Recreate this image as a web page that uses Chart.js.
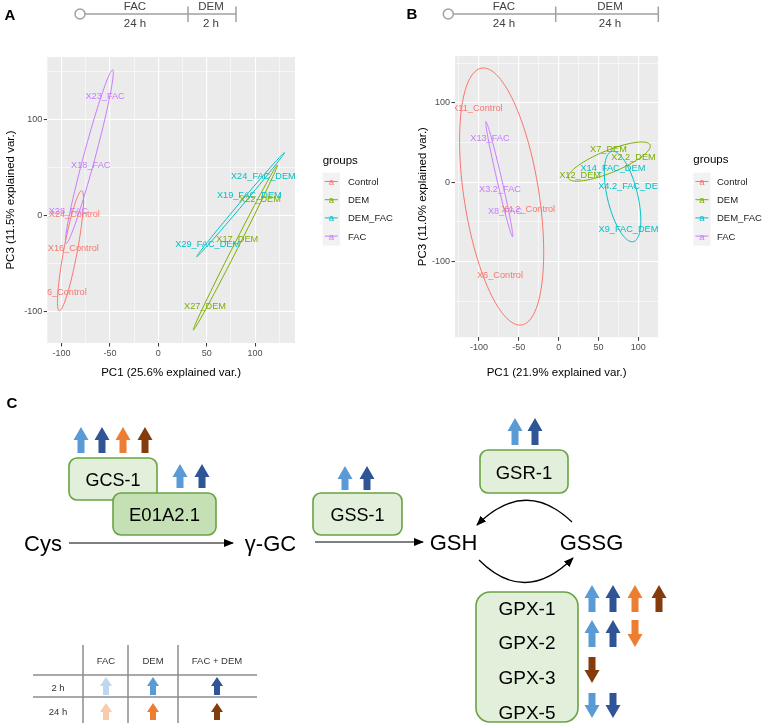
<!DOCTYPE html>
<html>
<head>
<meta charset="utf-8">
<script src="https://cdn.jsdelivr.net/npm/chart.js@4.4.1/dist/chart.umd.min.js"></script>
<style>
  body { margin: 0; background: #fff; width: 765px; height: 726px; overflow: hidden; position: relative;
         font-family: "Liberation Sans", Arial, sans-serif; }
  canvas { position: absolute; }
  #chartA { left: 0; top: 40px; }
  #chartB { left: 410px; top: 40px; }
  #overlay { position: absolute; left: 0; top: 0; }
</style>
</head>
<body>
<canvas id="chartA" width="300" height="340"></canvas>
<canvas id="chartB" width="250" height="340"></canvas>
<svg id="overlay" width="765" height="726" xmlns="http://www.w3.org/2000/svg"></svg>
<script>
// groups + ggplot default hues
const groups = ["Control", "DEM", "DEM_FAC", "FAC"];
const groupColors = ["#F8766D", "#7CAE00", "#00BFC4", "#C77CFF"];

// panel A (FAC 24 h -> DEM 2 h) sample scores
const namesA = ["X23_FAC", "X18_FAC", "X28_FAC", "X24_Control", "X16_Control", "X6_Control",
                "X24_FAC_DEM", "X19_FAC_DEM", "X22_DEM", "X29_FAC_DEM", "X17_DEM", "X27_DEM"];
const groupOfA = ["FAC", "FAC", "FAC", "Control", "Control", "Control",
                  "DEM_FAC", "DEM_FAC", "DEM", "DEM_FAC", "DEM", "DEM"];
const pc1A = [-55, -69.8, -93, -86.8, -87.8, -97.7, 108.5, 94, 105, 51, 81.6, 48.2];
const pc3A = [124, 52, 4.9, 1.8, -34.4, -80, 40.6, 20.8, 17.4, -29.5, -24.3, -94.8];
// ellipses per group (Control, DEM, DEM_FAC, FAC): centre, half axes, angle (deg)
const ellCxA = [-90.7, 79.6, 85, -71.2];
const ellCyA = [-36.5, -33.1, 11.5, 61.5];
const ellMajorA = [63.6, 96.2, 70.6, 93.5];
const ellMinorA = [7, 2.5, 1.8, 6];
const ellAngleA = [79.5, 63.2, 50.1, 75.1];
const xTicksA = [-100, -50, 0, 50, 100];
const yTicksA = [-100, 0, 100];

// panel B (FAC 24 h -> DEM 24 h)
const namesB = ["X11_Control", "X13_FAC", "X3.2_FAC", "X8_FAC", "X4.2_Control", "X6_Control",
                "X7_DEM", "X2.2_DEM", "X14_FAC_DEM", "X12_DEM", "X4.2_FAC_DEM", "X9_FAC_DEM"];
const groupOfB = ["Control", "FAC", "FAC", "FAC", "Control", "Control",
                  "DEM", "DEM", "DEM_FAC", "DEM", "DEM_FAC", "DEM_FAC"];
const pc1B = [-101.9, -86.2, -73.6, -67.3, -38, -73.6, 62.5, 93.9, 68, 26.9, 91.8, 87.6];
const pc3B = [93.3, 55.4, -9.7, -37, -34, -118, 40.7, 31, 17.6, 8, -5.5, -60.1];
const ellCxB = [-71.5, 63.5, 80.2, -74.5];
const ellCyB = [-18, 26, -18, 3.9];
const ellMajorB = [163.7, 55.4, 58.4, 74.4];
const ellMinorB = [47, 14, 19, 3];
const ellAngleB = [98.8, 22.3, 103.4, 103];
const xTicksB = [-100, -50, 0, 50, 100];
const yTicksB = [-100, 0, 100];

// draws grey panel, ellipses and sample names
function biplotDecor(ell) {
  return {
    id: "biplotDecor",
    beforeDraw(chart) {
      const a = chart.chartArea, ctx = chart.ctx;
      ctx.save();
      ctx.fillStyle = "#ebebeb";
      ctx.fillRect(a.left, a.top, a.right - a.left, a.bottom - a.top);
      ctx.restore();
    },
    afterDatasetsDraw(chart) {
      const a = chart.chartArea, ctx = chart.ctx;
      const x = chart.scales.x, y = chart.scales.y;
      ctx.save();
      ctx.beginPath();
      ctx.rect(a.left, a.top, a.right - a.left, a.bottom - a.top);
      ctx.clip();
      chart.data.datasets.forEach((ds, gi) => {
        const phi = ell.angle[gi] * Math.PI / 180;
        ctx.beginPath();
        for (let k = 0; k <= 120; k++) {
          const t = k / 120 * 2 * Math.PI;
          const dx = ell.major[gi] * Math.cos(t), dy = ell.minor[gi] * Math.sin(t);
          const px = x.getPixelForValue(ell.cx[gi] + dx * Math.cos(phi) - dy * Math.sin(phi));
          const py = y.getPixelForValue(ell.cy[gi] + dx * Math.sin(phi) + dy * Math.cos(phi));
          if (k) ctx.lineTo(px, py); else ctx.moveTo(px, py);
        }
        ctx.closePath();
        ctx.strokeStyle = ds.borderColor;
        ctx.lineWidth = 1;
        ctx.stroke();
      });
      ctx.font = '9.2px "Liberation Sans", Arial';
      ctx.textAlign = "center";
      ctx.textBaseline = "middle";
      chart.data.datasets.forEach((ds, gi) => {
        chart.getDatasetMeta(gi).data.forEach((pt, i) => {
          ctx.fillStyle = ds.borderColor;
          ctx.fillText(ds.data[i].name, pt.x, pt.y);
        });
      });
      ctx.restore();
    }
  };
}

function gridValues(min, max, step) {
  const v = [];
  for (let t = Math.ceil(min / step) * step; t <= max; t += step) v.push(t);
  return v;
}

function makeBiplot(id, o) {
  const datasets = groups.map((g, gi) => ({
    label: g,
    data: o.names.map((n, i) => ({ x: o.pc1[i], y: o.pc3[i], name: n, g: o.groupOf[i] }))
                 .filter(d => d.g === g),
    borderColor: groupColors[gi],
    backgroundColor: groupColors[gi],
    pointRadius: 0,
    showLine: false
  }));
  const axis = (majors, min, max, step, title, fit) => ({
    type: "linear", min: min, max: max,
    afterBuildTicks: s => { s.ticks = gridValues(min, max, step).map(v => ({ value: v })); },
    afterFit: fit,
    border: { display: false },
    grid: {
      color: "#ffffff",
      lineWidth: c => majors.includes(c.tick.value) ? 1.1 : 0.55,
      drawTicks: true, tickLength: 3.5, tickWidth: 1,
      tickColor: c => majors.includes(c.tick.value) ? "#333333" : "rgba(0,0,0,0)"
    },
    ticks: {
      autoSkip: false, maxRotation: 0, padding: 1.5,
      color: "#4d4d4d", font: { size: 9, family: '"Liberation Sans", Arial' },
      callback: v => majors.includes(v) ? String(v) : ""
    },
    title: { display: true, text: title, color: "#000", padding: 0,
             font: { size: 11.5, family: '"Liberation Sans", Arial' } }
  });
  return new Chart(document.getElementById(id), {
    type: "scatter",
    data: { datasets: datasets },
    options: {
      responsive: false, animation: false, events: [],
      layout: { padding: o.pad },
      plugins: { legend: { display: false }, tooltip: { enabled: false } },
      scales: {
        x: axis(o.xTicks, o.xr[0], o.xr[1], 25, o.xTitle, s => { s.height = o.xH; }),
        y: axis(o.yTicks, o.yr[0], o.yr[1], 50, o.yTitle, s => { s.width = o.yW; })
      }
    },
    plugins: [biplotDecor(o.ell)]
  });
}

makeBiplot("chartA", {
  names: namesA, groupOf: groupOfA, pc1: pc1A, pc3: pc3A,
  ell: { cx: ellCxA, cy: ellCyA, major: ellMajorA, minor: ellMinorA, angle: ellAngleA },
  xTicks: xTicksA, yTicks: yTicksA, xr: [-114.7, 141.2], yr: [-132.6, 165.3],
  xTitle: "PC1 (25.6% explained var.)", yTitle: "PC3 (11.5% explained var.)",
  pad: { left: 4, top: 17, right: 5, bottom: 0 }, yW: 43.3, xH: 37
});
makeBiplot("chartB", {
  names: namesB, groupOf: groupOfB, pc1: pc1B, pc3: pc3B,
  ell: { cx: ellCxB, cy: ellCyB, major: ellMajorB, minor: ellMinorB, angle: ellAngleB },
  xTicks: xTicksB, yTicks: yTicksB, xr: [-130, 125], yr: [-195.3, 159],
  xTitle: "PC1 (21.9% explained var.)", yTitle: "PC3 (11.0% explained var.)",
  pad: { left: 6, top: 16, right: 1.7, bottom: 0 }, yW: 39, xH: 42.7
});

// ---- overlay: panel letters, timelines, legends, pathway (panel C) ----
const LB = "#5b9bd5", DB = "#2f5597", OR = "#ed7d31", BR = "#843c0c";
const LLB = "#bdd7ee", LOR = "#f8cbad";
let svg = '<defs><marker id="ah" markerWidth="10" markerHeight="8" refX="9" refY="4" orient="auto" markerUnits="userSpaceOnUse">' +
          '<path d="M0,0 L10,4 L0,8 z" fill="#000"/></marker></defs>';

function txt(x, y, s, size, opt) {
  opt = opt || {};
  return '<text x="' + x + '" y="' + y + '" font-size="' + size + '" fill="' + (opt.fill || "#000") +
    '" text-anchor="' + (opt.anchor || "middle") + '" dominant-baseline="central"' +
    (opt.bold ? ' font-weight="bold"' : '') + ' font-family="Liberation Sans, Arial">' + s + '</text>';
}
function blockArrow(cx, top, bottom, dir, color, w, s, hh) {
  let p;
  if (dir === "up") {
    p = [[cx, top], [cx + w / 2, top + hh], [cx + s / 2, top + hh], [cx + s / 2, bottom],
         [cx - s / 2, bottom], [cx - s / 2, top + hh], [cx - w / 2, top + hh]];
  } else {
    p = [[cx, bottom], [cx + w / 2, bottom - hh], [cx + s / 2, bottom - hh], [cx + s / 2, top],
         [cx - s / 2, top], [cx - s / 2, bottom - hh], [cx - w / 2, bottom - hh]];
  }
  return '<polygon points="' + p.map(q => q.join(",")).join(" ") + '" fill="' + color + '"/>';
}
function box(x, y, w, h, fill, label, size) {
  return '<rect x="' + x + '" y="' + y + '" width="' + w + '" height="' + h + '" rx="8" fill="' + fill +
    '" stroke="#6aa343" stroke-width="1.6"/>' + txt(x + w / 2, y + h / 2 + 0.5, label, size);
}

// panel letters
svg += txt(10, 14, "A", 15, { bold: true }) + txt(412, 13, "B", 15, { bold: true }) + txt(12, 402, "C", 15, { bold: true });

// timelines
function timeline(cx0, xEnd, ticks, tops, bottoms, mids) {
  let s = '<line x1="' + (cx0 + 5) + '" y1="14" x2="' + xEnd + '" y2="14" stroke="#a0a0a0" stroke-width="1.5"/>';
  s += '<circle cx="' + cx0 + '" cy="14" r="5" fill="#fff" stroke="#a0a0a0" stroke-width="1.5"/>';
  ticks.forEach(t => { s += '<line x1="' + t + '" y1="6.5" x2="' + t + '" y2="22" stroke="#a0a0a0" stroke-width="1.5"/>'; });
  mids.forEach((m, i) => { s += txt(m, 6, tops[i], 11.5, { fill: "#404040" }) + txt(m, 22.5, bottoms[i], 11.5, { fill: "#404040" }); });
  return s;
}
svg += timeline(80, 236, [188, 236], ["FAC", "DEM"], ["24 h", "2 h"], [135, 211]);
svg += timeline(448.3, 658.3, [555.7, 658.3], ["FAC", "DEM"], ["24 h", "24 h"], [504, 610]);

// legends
function legend(keyLeft, titleY, labelX) {
  let s = txt(keyLeft, titleY, "groups", 11.5, { anchor: "start" });
  s += '<rect x="' + keyLeft + '" y="172.6" width="17.3" height="73" fill="#f2f2f2"/>';
  groups.forEach((g, i) => {
    const yc = 181.5 + i * 18.2, kx = keyLeft + 8.6;
    s += '<line x1="' + (kx - 6.5) + '" y1="' + yc + '" x2="' + (kx + 6.5) + '" y2="' + yc + '" stroke="' + groupColors[i] + '" stroke-width="1"/>';
    s += txt(kx, yc, "a", 9.5, { fill: groupColors[i] });
    s += txt(labelX, yc, g, 9.5, { anchor: "start", fill: "#1a1a1a" });
  });
  return s;
}
svg += legend(322.7, 160, 348) + legend(693.3, 159, 717);

// pathway
svg += box(69, 458, 88, 42, "#e2efda", "GCS-1", 18);
svg += box(113, 493, 103, 42, "#c5e0b4", "E01A2.1", 18.5);
svg += box(313, 493, 89, 42, "#e2efda", "GSS-1", 18);
svg += box(480, 450, 88, 43, "#e2efda", "GSR-1", 18.5);
svg += '<rect x="476" y="592" width="102" height="130" rx="14" fill="#e2efda" stroke="#6aa343" stroke-width="1.6"/>';
["GPX-1", "GPX-2", "GPX-3", "GPX-5"].forEach((g, i) => { svg += txt(527, [608, 642, 677, 712][i], g, 19); });

svg += txt(43, 543, "Cys", 22) + txt(270.5, 543, "γ-GC", 22) + txt(453.5, 542, "GSH", 22) + txt(591.5, 542, "GSSG", 22);
svg += '<line x1="69" y1="543" x2="233" y2="543" stroke="#000" stroke-width="1.1" marker-end="url(#ah)"/>';
svg += '<line x1="315" y1="542" x2="423" y2="542" stroke="#000" stroke-width="1.1" marker-end="url(#ah)"/>';
svg += '<path d="M572,522 Q525,477 477,525" fill="none" stroke="#000" stroke-width="1.3" marker-end="url(#ah)"/>';
svg += '<path d="M479,560 Q525,606 573,558" fill="none" stroke="#000" stroke-width="1.3" marker-end="url(#ah)"/>';

// expression arrows: [x, top, bottom, direction, colour]
const geneArrows = [
  [81, 427, 453, "up", LB], [102, 427, 453, "up", DB], [123, 427, 453, "up", OR], [145, 427, 453, "up", BR],
  [180, 464, 488, "up", LB], [202, 464, 488, "up", DB],
  [345, 466, 490, "up", LB], [367, 466, 490, "up", DB],
  [515, 418, 445, "up", LB], [535, 418, 445, "up", DB],
  [592, 585, 612, "up", LB], [613, 585, 612, "up", DB], [635, 585, 612, "up", OR], [659, 585, 612, "up", BR],
  [592, 620, 647, "up", LB], [613, 620, 647, "up", DB], [635, 620, 647, "down", OR],
  [592, 657, 683, "down", BR],
  [592, 693, 718, "down", LB], [613, 693, 718, "down", DB]
];
geneArrows.forEach(a => { svg += blockArrow(a[0], a[1], a[2], a[3], a[4], 15, 7, 13); });

// key table
[83, 128, 178].forEach(x => { svg += '<line x1="' + x + '" y1="645" x2="' + x + '" y2="723" stroke="#8c8c8c" stroke-width="1.5"/>'; });
[675, 697].forEach(y => { svg += '<line x1="33" y1="' + y + '" x2="257" y2="' + y + '" stroke="#8c8c8c" stroke-width="1.5"/>'; });
svg += txt(106, 660, "FAC", 9.5, { fill: "#333" }) + txt(153, 660, "DEM", 9.5, { fill: "#333" }) + txt(217, 660, "FAC + DEM", 9.5, { fill: "#333" });
svg += txt(58, 687, "2 h", 9.5, { fill: "#333" }) + txt(58, 711, "24 h", 9.5, { fill: "#333" });
[[106, LLB], [153, LB], [217, DB]].forEach(a => { svg += blockArrow(a[0], 677, 695, "up", a[1], 12, 6, 9); });
[[106, LOR], [153, OR], [217, BR]].forEach(a => { svg += blockArrow(a[0], 703, 720, "up", a[1], 12, 6, 9); });

document.getElementById("overlay").innerHTML = svg;
</script>
</body>
</html>
